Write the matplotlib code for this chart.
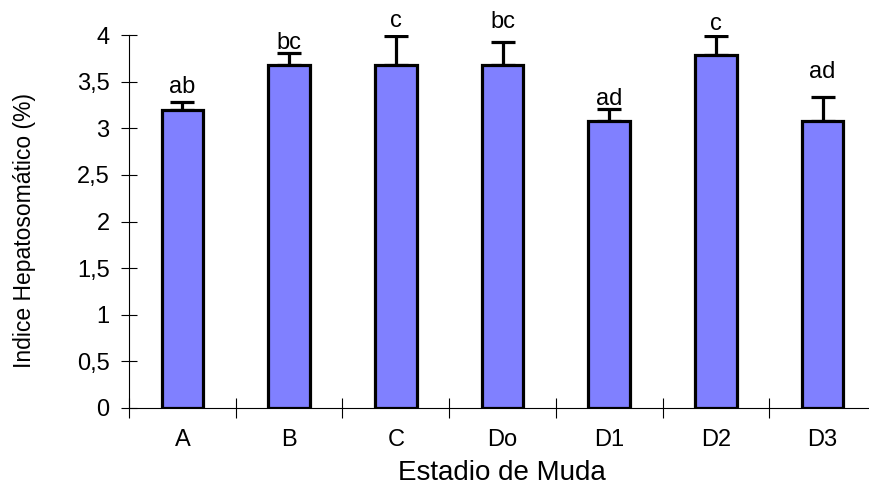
import numpy as np
import matplotlib
matplotlib.use("Agg")
import matplotlib.pyplot as plt
from matplotlib.ticker import FixedLocator

plt.rcParams['font.family'] = ['Liberation Sans', 'DejaVu Sans']

estadios = ["A", "B", "C", "Do", "D1", "D2", "D3"]
ihs = [3.2, 3.68, 3.68, 3.68, 3.08, 3.79, 3.08]
erro = [0.08, 0.13, 0.31, 0.25, 0.13, 0.20, 0.25]
letras = ["ab", "bc", "c", "bc", "ad", "c", "ad"]
letras_y = [3.375, 3.855, 4.086, 4.075, 3.25, 4.054, 3.54]
yticks = [0, 0.5, 1, 1.5, 2, 2.5, 3, 3.5, 4]
ytick_labels = ["0", "0,5", "1", "1,5", "2", "2,5", "3", "3,5", "4"]

fig = plt.figure(figsize=(8.69, 4.88), dpi=100)
ax = fig.add_axes([129/869, 80/488, (876-129)/869, (408-35)/488])

x = np.arange(len(estadios))
ax.bar(x, ihs, width=0.39, color="#8080FF", edgecolor="black", linewidth=2.3, zorder=2)
ax.errorbar(x, ihs, yerr=[np.zeros(len(erro)), erro], fmt="none", ecolor="black",
            elinewidth=2.3, capsize=8.5, capthick=2.3, zorder=1)

for xi, lab, ly in zip(x, letras, letras_y):
    ax.text(xi, ly, lab, ha="center", va="baseline", fontsize=17, clip_on=False)

ax.set_xlim(-0.5, len(estadios) - 0.5)
ax.set_ylim(0, 4)

# boundaries as major ticks, names on minor ticks
ax.xaxis.set_major_locator(FixedLocator(np.arange(-0.5, len(estadios), 1.0)))
ax.xaxis.set_minor_locator(FixedLocator(x))
ax.set_xticklabels([])
ax.set_xticklabels(estadios, minor=True)
ax.tick_params(axis="x", which="major", direction="inout", length=14, width=0.8)
ax.tick_params(axis="x", which="minor", length=0, pad=15, labelsize=17)

ax.set_yticks(yticks)
ax.set_yticklabels(ytick_labels)
ax.tick_params(axis="y", direction="inout", length=12, width=0.8, pad=8, labelsize=17)

for s in ["top", "right"]:
    ax.spines[s].set_visible(False)
for s in ["left", "bottom"]:
    ax.spines[s].set_linewidth(0.8)

fig.text(502/869, 1.5/488, "Estadio de Muda", ha="center", va="bottom", fontsize=20)
fig.text(25/869, (488-230)/488, "Indice Hepatosomático (%)", rotation=90,
         ha="center", va="center", fontsize=16.5)

fig.savefig("out.png", dpi=100)
